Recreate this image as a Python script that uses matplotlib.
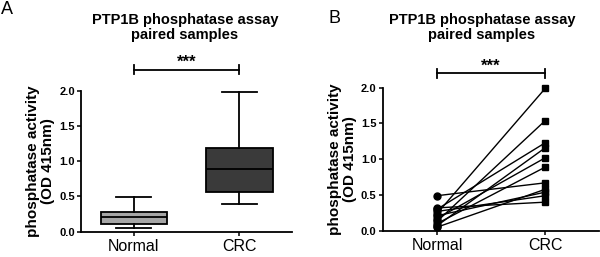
import numpy as np
import matplotlib.pyplot as plt

plt.rcParams['font.family'] = ['Liberation Sans', 'DejaVu Sans']

# paired samples (Normal -> CRC)
normal = [0.49, 0.32, 0.30, 0.27, 0.24, 0.21, 0.17, 0.13, 0.10, 0.07, 0.05]
crc = [0.67, 0.40, 1.23, 0.49, 1.99, 0.54, 1.02, 1.54, 0.89, 1.16, 0.58]
groups = ["Normal", "CRC"]
yticks = [0.0, 0.5, 1.0, 1.5, 2.0]
title = "PTP1B phosphatase assay\npaired samples"
ylab = "phosphatase activity\n(OD 415nm)"

fig = plt.figure(figsize=(6, 2.57), dpi=100)
axA = fig.add_axes([0.135, 0.0985, 0.352, 0.548])
axB = fig.add_axes([0.638, 0.102, 0.361, 0.557])


def style(ax):
    ax.set_xlim(0.5, 2.5)
    ax.set_ylim(0, 2.0)
    ax.spines['right'].set_visible(False)
    ax.spines['top'].set_visible(False)
    ax.spines['left'].set_linewidth(1.3)
    ax.spines['bottom'].set_linewidth(1.3)
    ax.set_yticks(yticks)
    ax.set_yticklabels(["%.1f" % t for t in yticks], fontsize=8, fontweight='bold')
    ax.set_xticks([1, 2])
    ax.set_xticklabels(groups, fontsize=11.5)
    ax.tick_params(axis='y', length=3, width=1.1, pad=1.5)
    ax.tick_params(axis='x', length=3, width=1.1, pad=2)
    ax.set_ylabel(ylab, fontsize=11, fontweight='bold', linespacing=1.05, labelpad=3)


def sigbar(ax, y, ystar):
    ax.plot([1, 2], [y, y], color='black', lw=1.3, clip_on=False)
    for x in (1, 2):
        ax.plot([x, x], [y - 0.06, y + 0.06], color='black', lw=1.3, clip_on=False)
    ax.text(1.5, ystar, "***", ha='center', va='bottom', fontsize=12, fontweight='bold')


# panel A: box plots
bp = axA.boxplot([normal, crc], positions=[1, 2], widths=0.63, whis=(0, 100),
                 patch_artist=True, showfliers=False,
                 medianprops=dict(color='black', lw=1.3),
                 boxprops=dict(lw=1.3), whiskerprops=dict(lw=1.3),
                 capprops=dict(lw=1.3), capwidths=0.33)
for patch, col in zip(bp['boxes'], ['#a6a6a6', '#3a3a3a']):
    patch.set_facecolor(col)
    patch.set_edgecolor('black')
style(axA)
sigbar(axA, 2.3, 2.3)

# panel B: paired lines
for a, b in zip(normal, crc):
    axB.plot([1, 2], [a, b], color='black', lw=1.0, zorder=2)
axB.plot([1] * len(normal), normal, 'o', color='black', ms=5, clip_on=False, zorder=3)
axB.plot([2] * len(crc), crc, 's', color='black', ms=5, clip_on=False, zorder=3)
style(axB)
sigbar(axB, 2.2, 2.2)

fig.text(0.308, 0.95, title, ha='center', va='top', fontsize=10.5, fontweight='bold',
         linespacing=1.1)
fig.text(0.803, 0.95, title, ha='center', va='top', fontsize=10.5, fontweight='bold',
         linespacing=1.1)
fig.text(0.002, 0.995, "A", ha='left', va='top', fontsize=13)
fig.text(0.548, 0.96, "B", ha='left', va='top', fontsize=13)

fig.savefig("out.png", dpi=100)
